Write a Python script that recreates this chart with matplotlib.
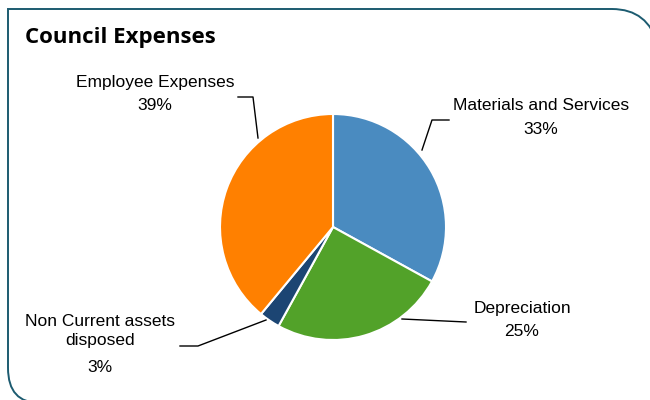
import matplotlib.pyplot as plt
from matplotlib.path import Path
from matplotlib.patches import PathPatch

plt.rcParams['font.family'] = ['Liberation Sans', 'DejaVu Sans']

# expense shares, clockwise from 12 o'clock
labels = ['Materials and Services', 'Depreciation', 'Non Current assets\ndisposed', 'Employee Expenses']
shares = [33, 25, 3, 39]
colors = ['#4a8bc0', '#52a229', '#1c4573', '#ff8000']

fig = plt.figure(figsize=(6.5, 4), dpi=100)
ax = fig.add_axes([0, 0, 1, 1])

# pie drawn on a flipped axis, so go counter-clockwise to look clockwise
wedges, _ = ax.pie(shares, colors=colors, startangle=-90, counterclock=True,
                   center=(333, 227), radius=113, frame=True,
                   wedgeprops=dict(edgecolor='white', linewidth=1.5))
ax.set_xlim(0, 650)
ax.set_ylim(400, 0)  # pixel-like coords, y down
ax.set_aspect('equal')
ax.axis('off')

# frame: square top-left corner, rounded top-right and bottom-left
frame = Path([(8, 368), (8, 9), (612, 9), (648, 9), (658, 45)],
             [Path.MOVETO, Path.LINETO, Path.LINETO, Path.CURVE3, Path.CURVE3])
ax.add_patch(PathPatch(frame, fill=False, edgecolor='#1c5b70', linewidth=1.4))
corner = Path([(8, 368), (8, 403), (40, 403)], [Path.MOVETO, Path.CURVE3, Path.CURVE3])
ax.add_patch(PathPatch(corner, fill=False, edgecolor='#1c5b70', linewidth=1.4))

ax.text(25, 38, 'Council Expenses', fontsize=16, fontweight='bold',
        family=['Open Sans', 'DejaVu Sans'], va='center', ha='left')

# leader lines: edge point -> elbow -> end
leaders = [
    [(422, 150), (432, 120), (449, 120)],
    [(402, 319), (466, 322)],
    [(266, 320), (198, 346), (180, 346)],
    [(258, 138), (253, 97), (238, 97)],
]
for pts in leaders:
    xs, ys = zip(*pts)
    ax.plot(xs, ys, color='black', linewidth=1)

fs = 12.5
ax.text(541, 105, labels[0], fontsize=fs, ha='center', va='center')
ax.text(541, 130, f'{shares[0]}%', fontsize=fs, ha='center', va='center')
ax.text(522, 308, labels[1], fontsize=fs, ha='center', va='center')
ax.text(522, 331, f'{shares[1]}%', fontsize=fs, ha='center', va='center')
ax.text(100, 331, labels[2], fontsize=fs, ha='center', va='center', linespacing=1.3)
ax.text(100, 367, f'{shares[2]}%', fontsize=fs, ha='center', va='center')
ax.text(155, 82, labels[3], fontsize=fs, ha='center', va='center')
ax.text(155, 106, f'{shares[3]}%', fontsize=fs, ha='center', va='center')

fig.savefig('out.png', dpi=100)
